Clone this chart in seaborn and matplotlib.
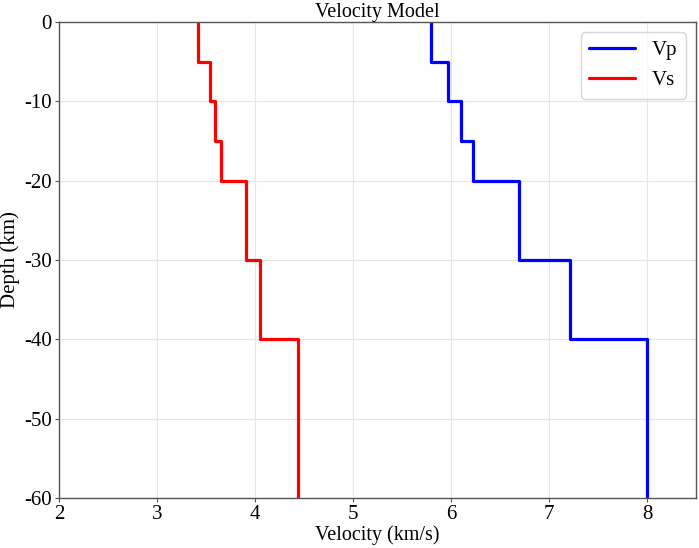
import matplotlib
matplotlib.use("Agg")
import matplotlib.pyplot as plt
import numpy as np
import pandas as pd
import seaborn as sns

# Layer model (depth in km, velocities in km/s)
layer_top = [0, 5, 10, 15, 20, 30, 40]
layer_bottom = [5, 10, 15, 20, 30, 40, 60]
vp = [5.80, 5.97, 6.10, 6.22, 6.69, 7.21, 8.00]
vs = [3.42, 3.54, 3.59, 3.65, 3.91, 4.05, 4.44]

sns.set_style("ticks", {"axes.grid": True, "grid.color": "#e6e6e6",
                        "axes.edgecolor": "#555555", "text.color": "black",
                        "axes.labelcolor": "black", "xtick.color": "black",
                        "ytick.color": "black"})
plt.rcParams['font.family'] = ['Liberation Serif', 'DejaVu Serif']
plt.rcParams['axes.unicode_minus'] = False


# Turn the layer table into step-profile points
def step_profile(vel, name):
    rows = []
    for top, bot, v in zip(layer_top, layer_bottom, vel):
        rows.append((v, -top, name))
        rows.append((v, -bot, name))
    return pd.DataFrame(rows, columns=["velocity", "depth", "wave"])


df = pd.concat([step_profile(vp, "Vp"), step_profile(vs, "Vs")], ignore_index=True)

fig = plt.figure(figsize=(6.99, 5.48), dpi=100)
ax = fig.add_axes([0.0844, 0.0912, 0.9113, 0.8688])
sns.lineplot(data=df, x="velocity", y="depth", hue="wave",
             palette={"Vp": "blue", "Vs": "red"}, sort=False, estimator=None,
             linewidth=2.3, ax=ax)

ax.set_xlim(2, 8.5)
ax.set_ylim(-60, 0)
ax.set_xticks(range(2, 9))
ax.set_yticks(range(-60, 1, 10))
ax.tick_params(labelsize=15, length=3, color="#555555", labelcolor="black", pad=2)
ax.set_xlabel("Velocity (km/s)", fontsize=14.5, labelpad=1)
ax.set_ylabel("Depth (km)", fontsize=15, labelpad=3)
ax.set_title("Velocity Model", fontsize=14.5, pad=2)
for s in ax.spines.values():
    s.set_linewidth(1.0)

ax.legend(title=None, loc="upper right", fontsize=15, handlelength=2.2,
          borderaxespad=0.5)

fig.savefig("out.png", dpi=100)
